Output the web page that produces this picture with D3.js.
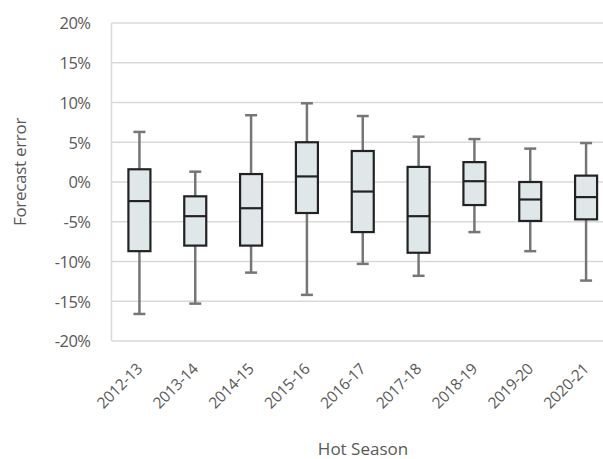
<!DOCTYPE html>
<html><head><meta charset="utf-8">
<script src="https://cdn.jsdelivr.net/npm/d3@7"></script>
<style>body{margin:0;background:#fff}svg{display:block}text{font-family:"Open Sans",sans-serif}</style>
</head><body><svg id="c" width="603" height="459"></svg>
<script>
const seasons = ["2012-13","2013-14","2014-15","2015-16","2016-17","2017-18","2018-19","2019-20","2020-21"];
const whiskerLow = [-16.6,-15.3,-11.4,-14.2,-10.3,-11.8,-6.3,-8.7,-12.4];
const q1        = [-8.7,-8.0,-8.0,-3.9,-6.3,-8.9,-2.9,-4.9,-4.7];
const median    = [-2.4,-4.3,-3.3,0.7,-1.2,-4.3,0.1,-2.2,-1.9];
const q3        = [1.6,-1.8,1.0,5.0,3.9,1.9,2.5,0.0,0.8];
const whiskerHigh = [6.3,1.3,8.4,9.9,8.3,5.7,5.4,4.2,4.9];
const yTicks = [-20,-15,-10,-5,0,5,10,15,20];

const svg = d3.select("#c");
const m = {left:111.5, top:23, right:614, bottom:341};
const x = d3.scaleBand().domain(seasons).range([m.left, m.right]);
const y = d3.scaleLinear().domain([-20,20]).range([m.bottom, m.top]);

// gridlines
svg.append("g").selectAll("line").data(yTicks).join("line")
  .attr("x1", m.left).attr("x2", m.right)
  .attr("y1", d=>y(d)).attr("y2", d=>y(d))
  .attr("stroke","#d9d9d9").attr("stroke-width",1.5);
svg.append("line").attr("x1",m.left).attr("x2",m.left).attr("y1",m.top).attr("y2",m.bottom)
  .attr("stroke","#d9d9d9").attr("stroke-width",1.5);

// y axis labels
const yAxis = d3.axisLeft(y).tickValues(yTicks).tickFormat(d=>d+"%").tickSize(0).tickPadding(0);
const yg = svg.append("g").attr("transform",`translate(${m.left-21},0)`).call(yAxis);
yg.select(".domain").remove();
yg.selectAll("text").attr("font-size",16.5).attr("fill","#595959").attr("font-family","'Open Sans',sans-serif")
  .attr("letter-spacing","-0.5").attr("dy","0.36em");

// x axis labels
const xAxis = d3.axisBottom(x).tickSize(0).tickPadding(0);
const xg = svg.append("g").attr("transform",`translate(0,${m.bottom+25})`).call(xAxis);
xg.select(".domain").remove();
xg.selectAll("text").attr("font-size",15.5).attr("fill","#595959").attr("font-family","'Open Sans',sans-serif")
  .attr("text-anchor","end").attr("dy","0.35em").attr("letter-spacing","-0.3")
  .attr("transform","translate(0,0) rotate(-45)");

// boxes
const data = seasons.map((s,i)=>({s, lo:whiskerLow[i], q1:q1[i], med:median[i], q3:q3[i], hi:whiskerHigh[i]}));
const bw = 22, cap = 12;
const g = svg.append("g").selectAll("g").data(data).join("g")
  .attr("transform", d=>`translate(${x(d.s)+x.bandwidth()/2},0)`);
g.append("line").attr("x1",0).attr("x2",0).attr("y1",d=>y(d.hi)).attr("y2",d=>y(d.lo))
  .attr("stroke","#767676").attr("stroke-width",2.5);
g.append("line").attr("x1",-cap/2).attr("x2",cap/2).attr("y1",d=>y(d.hi)).attr("y2",d=>y(d.hi))
  .attr("stroke","#767676").attr("stroke-width",2.5);
g.append("line").attr("x1",-cap/2).attr("x2",cap/2).attr("y1",d=>y(d.lo)).attr("y2",d=>y(d.lo))
  .attr("stroke","#767676").attr("stroke-width",2.5);
g.append("rect").attr("x",-bw/2).attr("width",bw)
  .attr("y",d=>y(d.q3)).attr("height",d=>y(d.q1)-y(d.q3))
  .attr("fill","#e0e7e8").attr("stroke","#222").attr("stroke-width",2.2);
g.append("line").attr("x1",-bw/2).attr("x2",bw/2).attr("y1",d=>y(d.med)).attr("y2",d=>y(d.med))
  .attr("stroke","#222").attr("stroke-width",2.2);

// titles
svg.append("text").attr("x",363).attr("y",455).attr("text-anchor","middle")
  .attr("font-size",17).attr("fill","#595959").text("Hot Season");
svg.append("text").attr("transform","translate(26,172) rotate(-90)").attr("text-anchor","middle")
  .attr("font-size",17).attr("fill","#595959").attr("letter-spacing","-0.3").text("Forecast error");
</script></body></html>
